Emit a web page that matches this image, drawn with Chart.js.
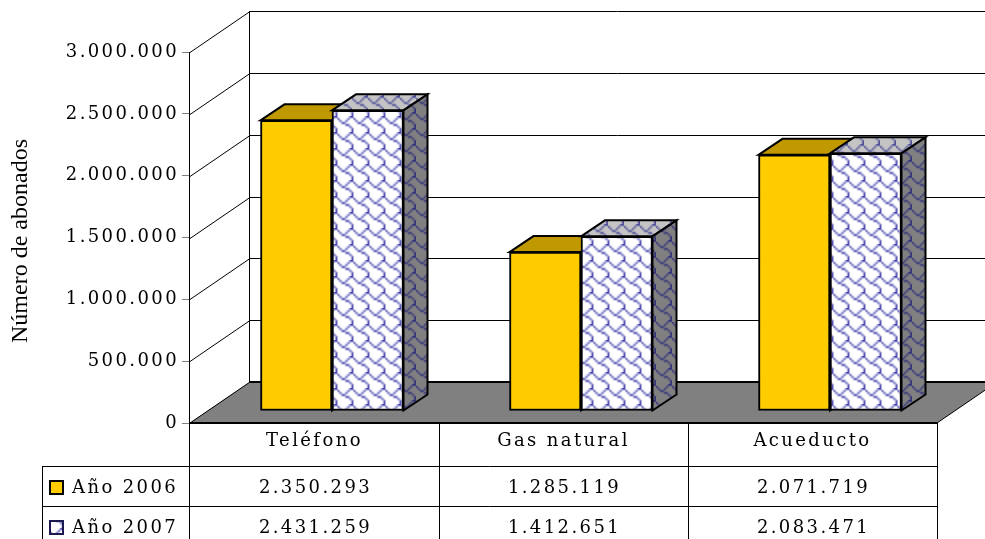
<!DOCTYPE html>
<html><head><meta charset="utf-8">
<style>html,body{margin:0;padding:0;background:#fff;overflow:hidden}canvas{display:block}</style>
<script src="https://cdn.jsdelivr.net/npm/chart.js@4"></script>
</head><body>
<canvas id="c" width="985" height="539"></canvas>
<script>
const categories = ['Teléfono', 'Gas natural', 'Acueducto'];
const seriesNames = ['Año 2006', 'Año 2007'];
const values2006 = [2350293, 1285119, 2071719];
const values2007 = [2431259, 1412651, 2083471];
const yTitle = 'Número de abonados';
const fmt = v => String(v).replace(/\B(?=(\d{3})+$)/g, '.');
const FONT = '"DejaVu Serif", serif';
const SPACING = '2.4px';

const SHINGLE = [0x03,0x84,0x48,0x30,0x0C,0x02,0x01,0x01];
function makeTile(bg, fg) {
  const small = document.createElement('canvas'); small.width = small.height = 8;
  const s = small.getContext('2d');
  s.fillStyle = bg; s.fillRect(0,0,8,8);
  s.fillStyle = fg;
  SHINGLE.forEach((b,r)=>{ for(let i=0;i<8;i++) if(b & (0x80>>i)) s.fillRect(i,r,1,1); });
  const t = document.createElement('canvas'); t.width = t.height = 16;
  const c = t.getContext('2d');
  c.imageSmoothingEnabled = true;
  for (let dx=-1;dx<=1;dx++) for (let dy=-1;dy<=1;dy++) c.drawImage(small,dx*16,dy*16,16,16);
  return document.createElement('canvas').getContext('2d').createPattern(t,'repeat');
}
const patFront = makeTile('#ffffff', '#4848b0');
const patTop = makeTile('#c4c4c4', '#50509a');
const patSide = makeTile('#808080', '#34347c');
const YELLOW = '#FFCC00', YELLOW_TOP = '#C09900';

const WALL = {dx:60, dy:41}, BAR = {dx:24, dy:16}, BAR_SHIFT = {x:17.5, y:-12};

const scene = {
  id:'scene',
  beforeDraw(chart){
    const ctx = chart.ctx;
    ctx.letterSpacing = SPACING;
    ctx.save(); ctx.fillStyle='#fff'; ctx.fillRect(0,0,chart.width,chart.height); ctx.restore();
  },
  beforeDatasetsDraw(chart){
    const ctx = chart.ctx, y = chart.scales.y, a = chart.chartArea;
    const y0 = y.getPixelForValue(0), yTop = y.getPixelForValue(y.max);
    ctx.save();
    ctx.strokeStyle='#000'; ctx.lineWidth=1;
    // walls
    y.ticks.forEach(t=>{
      const py = Math.round(y.getPixelForValue(t.value))+0.5;
      ctx.beginPath();
      ctx.moveTo(a.left,py); ctx.lineTo(a.left+WALL.dx,py-WALL.dy); ctx.lineTo(chart.width,py-WALL.dy);
      ctx.stroke();
    });
    ctx.beginPath();
    ctx.moveTo(a.left-0.5,yTop); ctx.lineTo(a.left-0.5,y0);
    ctx.moveTo(a.left+WALL.dx-0.5,yTop-WALL.dy); ctx.lineTo(a.left+WALL.dx-0.5,y0-WALL.dy);
    ctx.stroke();
    // floor
    ctx.fillStyle='#808080';
    ctx.beginPath();
    ctx.moveTo(a.left,y0); ctx.lineTo(a.left+WALL.dx,y0-WALL.dy);
    ctx.lineTo(a.right+WALL.dx,y0-WALL.dy); ctx.lineTo(a.right,y0); ctx.closePath();
    ctx.fill(); ctx.stroke();
    ctx.lineWidth=2;
    ctx.beginPath(); ctx.moveTo(a.left+WALL.dx,y0-WALL.dy); ctx.lineTo(chart.width,y0-WALL.dy); ctx.stroke();
    // table
    const x = chart.scales.x, band = x.getPixelForValue(1)-x.getPixelForValue(0);
    const rows = [y0+44, y0+84], tableLeft = 42, bottom = chart.height;
    ctx.lineWidth=1;
    ctx.beginPath();
    rows.forEach(r=>{ ctx.moveTo(tableLeft,Math.round(r)-0.5); ctx.lineTo(a.right,Math.round(r)-0.5); });
    ctx.moveTo(tableLeft+0.5,rows[0]); ctx.lineTo(tableLeft+0.5,bottom);
    for(let i=0;i<=categories.length;i++){
      const px = Math.round(a.left+i*band)+(i===0?-0.5:0.5);
      ctx.moveTo(px,y0); ctx.lineTo(px,bottom);
    }
    ctx.stroke();
    ctx.lineWidth=2;
    ctx.beginPath(); ctx.moveTo(a.left,y0); ctx.lineTo(a.right,y0); ctx.stroke();
    // table text
    ctx.fillStyle='#000'; ctx.font='18px '+FONT; ctx.textBaseline='middle';
    const lists=[values2006,values2007];
    lists.forEach((vals,s)=>{
      const cy = rows[s]+21;
      ctx.textAlign='left'; ctx.fillText(seriesNames[s],72,cy);
      ctx.textAlign='center';
      vals.forEach((v,i)=>ctx.fillText(fmt(v),x.getPixelForValue(i)+1,cy));
      ctx.fillStyle = s===0?YELLOW:patFront;
      ctx.fillRect(50,cy-7,13,13);
      ctx.strokeStyle = s===0?'#000':'#1a1a50'; ctx.lineWidth=2;
      ctx.strokeRect(50,cy-7,13,13);
      ctx.fillStyle='#000'; ctx.strokeStyle='#000';
    });
    // axis title
    ctx.save();
    ctx.letterSpacing='0px';
    ctx.font='24px "Liberation Serif", serif';
    ctx.textAlign='center'; ctx.textBaseline='alphabetic';
    ctx.translate(27,241); ctx.rotate(-Math.PI/2);
    ctx.fillText(yTitle,0,0);
    ctx.restore();
    // 3D faces of the bars
    ctx.lineWidth=2; ctx.lineJoin='miter'; ctx.strokeStyle='#000';
    const tops=[YELLOW_TOP,patTop], sides=[YELLOW_TOP,patSide];
    [0,1].forEach(d=>{
      chart.getDatasetMeta(d).data.forEach(el=>{
        const p = el.getProps(['x','y','base','width'],true);
        const L = p.x-p.width/2+BAR_SHIFT.x, R = p.x+p.width/2+BAR_SHIFT.x;
        const T = p.y+BAR_SHIFT.y, B = p.base+BAR_SHIFT.y;
        ctx.fillStyle=tops[d];
        ctx.beginPath(); ctx.moveTo(L,T); ctx.lineTo(L+BAR.dx,T-BAR.dy); ctx.lineTo(R+BAR.dx,T-BAR.dy); ctx.lineTo(R,T); ctx.closePath();
        ctx.fill(); ctx.stroke();
        ctx.fillStyle=sides[d];
        ctx.beginPath(); ctx.moveTo(R,T); ctx.lineTo(R+BAR.dx,T-BAR.dy); ctx.lineTo(R+BAR.dx,B-BAR.dy); ctx.lineTo(R,B); ctx.closePath();
        ctx.fill(); ctx.stroke();
      });
    });
    ctx.restore();
    ctx.save();
    ctx.translate(BAR_SHIFT.x,BAR_SHIFT.y);
  },
  afterDatasetsDraw(chart){ chart.ctx.restore(); }
};

new Chart(document.getElementById('c'),{
  type:'bar',
  data:{labels:categories,datasets:[
    {label:seriesNames[0],data:values2006,backgroundColor:YELLOW,borderColor:'#000',borderWidth:2,borderSkipped:false,barThickness:71.5,clip:false},
    {label:seriesNames[1],data:values2007,backgroundColor:patFront,borderColor:'#000',borderWidth:2,borderSkipped:false,barThickness:71.5,clip:false}
  ]},
  plugins:[scene],
  options:{
    responsive:false,animation:false,
    layout:{padding:{top:52,right:48,left:0,bottom:0}},
    plugins:{legend:{display:false},tooltip:{enabled:false},title:{display:false}},
    scales:{
      x:{
        grid:{display:false,drawTicks:false},border:{display:false},
        afterFit(s){s.height=116;},
        ticks:{color:'#000',font:{family:FONT,size:18},padding:8,maxRotation:0,autoSkip:false}
      },
      y:{
        min:0,max:3000000,
        afterFit(s){s.width=190;},
        grid:{drawOnChartArea:false,color:'#808080',tickLength:8},border:{display:false},
        ticks:{stepSize:500000,color:'#000',font:{family:FONT,size:18},padding:3,callback:v=>fmt(v)}
      }
    }
  }
});
</script>
</body></html>
